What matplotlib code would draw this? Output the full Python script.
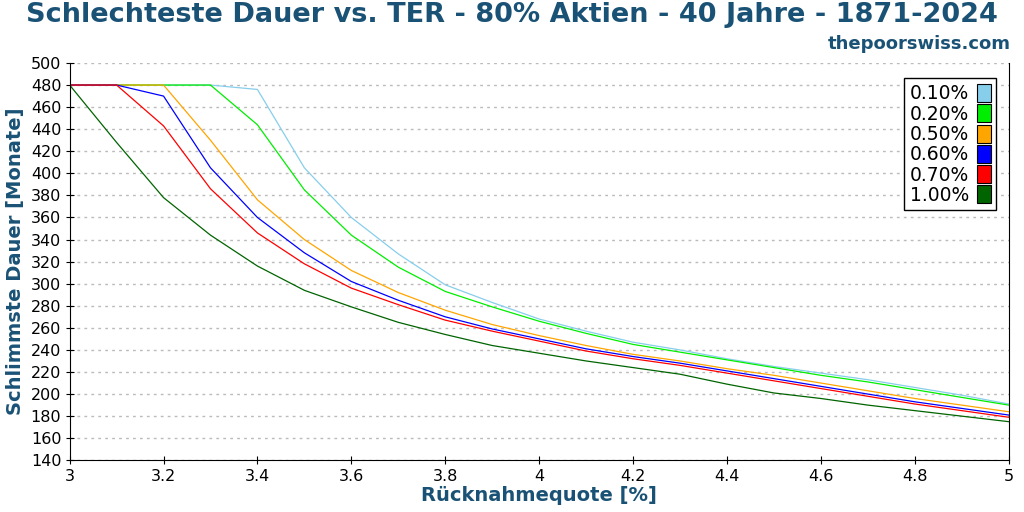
import matplotlib
matplotlib.use("Agg")
import matplotlib.pyplot as plt
from matplotlib.patches import Patch
import numpy as np

x = [3.0, 3.1, 3.2, 3.3, 3.4, 3.5, 3.6, 3.7, 3.8, 3.9, 4.0,
     4.1, 4.2, 4.3, 4.4, 4.5, 4.6, 4.7, 4.8, 4.9, 5.0]
labels = ["0.10%", "0.20%", "0.50%", "0.60%", "0.70%", "1.00%"]
colors = ["#87ceeb", "#00ee00", "#ffa500", "#0000ff", "#ff0000", "#006400"]
ter_010 = [480, 480, 480, 480, 476, 405, 360, 327, 299, 283, 268, 257, 247, 240, 232, 225, 219, 213, 206, 199, 191]
ter_020 = [480, 480, 480, 480, 444, 385, 344, 315, 293, 279, 266, 255, 245, 238, 231, 224, 217, 211, 204, 197, 190]
ter_050 = [480, 480, 480, 430, 376, 340, 312, 292, 276, 263, 253, 244, 236, 230, 223, 217, 210, 203, 196, 190, 184]
ter_060 = [480, 480, 470, 405, 360, 328, 302, 285, 270, 259, 250, 241, 234, 228, 221, 214, 207, 200, 193, 187, 181]
ter_070 = [480, 480, 443, 386, 346, 318, 296, 281, 267, 257, 248, 239, 232, 226, 219, 212, 205, 198, 191, 185, 179]
ter_100 = [480, 428, 378, 344, 316, 294, 279, 265, 254, 244, 237, 230, 224, 218, 209, 201, 196, 190, 185, 180, 175]
series = [ter_010, ter_020, ter_050, ter_060, ter_070, ter_100]

title_c = "#1a5276"
fig = plt.figure(figsize=(10.24, 5.12), dpi=100)
ax = fig.add_axes([0.068, 0.101, 0.917, 0.776])
for s, c in zip(series, colors):
    ax.plot(x, s, color=c, lw=0.9)

ax.set_xlim(3, 5)
ax.set_ylim(140, 500)
ax.set_xticks(np.arange(3, 5.01, 0.2))
ax.set_xticklabels(["3", "3.2", "3.4", "3.6", "3.8", "4", "4.2", "4.4", "4.6", "4.8", "5"])
ax.set_yticks(np.arange(140, 501, 20))
ax.tick_params(labelsize=11.5, direction="inout", length=6, pad=3)
ax.grid(axis="y", ls=(0, (2, 3)), color="#bbbbbb", lw=1)
ax.spines["top"].set_visible(False)

ax.set_xlabel("Rücknahmequote [%]", fontsize=14, fontweight="bold", color=title_c, labelpad=2)
ax.set_ylabel("Schlimmste Dauer [Monate]", fontsize=14, fontweight="bold", color=title_c)
fig.text(0.5, 0.97, "Schlechteste Dauer vs. TER - 80% Aktien - 40 Jahre - 1871-2024",
         ha="center", va="center", fontsize=19.5, fontweight="bold", color=title_c)
fig.text(0.987, 0.915, "thepoorswiss.com", ha="right", va="center",
         fontsize=13, fontweight="bold", color=title_c)

handles = [Patch(facecolor=c, edgecolor="black", lw=0.8) for c in colors]
leg = ax.legend(handles, labels, loc="upper right", fontsize=13.5, markerfirst=False,
                handlelength=0.75, handleheight=1.1, handletextpad=0.4, labelspacing=0.05,
                fancybox=False, framealpha=1, borderpad=0.3, bbox_to_anchor=(0.997, 0.985))
leg.get_frame().set_edgecolor("black")
fig.savefig("out.png", dpi=100)
